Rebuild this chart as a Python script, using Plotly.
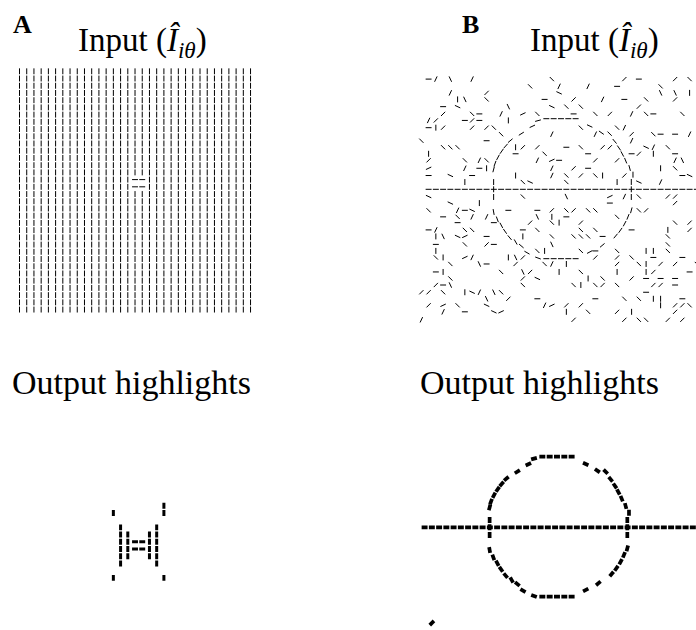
import math
import plotly.graph_objects as go

# ---------------- data ----------------
# orientation codes (degrees, counter-clockwise from horizontal)
ANGLE_CODES = {'-': 0, 'a': 25, '/': 45, 'b': 65, '|': 90, 'c': 115, 'x': 135, 'd': 155}

# Panel A: vertical bars on a 33 x 34 grid, 2x2 patch of horizontal target bars
A_N_COLS = 33
A_N_ROWS = 34
A_TARGET = [(16, 15), (17, 15), (16, 16), (17, 16)]
A_OUT = [
    (13, 11, '|'), (13, 20, '|'), (20, 10, '|'), (20, 11, '|'), (20, 20, '|'),
    (14, 13, '|'), (14, 14, '|'), (14, 15, '|'), (14, 16, '|'), (14, 17, '|'), (14, 18, '|'),
    (15, 14, '|'), (15, 15, '|'), (15, 16, '|'), (15, 17, '|'),
    (16, 15, '-'), (17, 15, '-'), (16, 16, '-'), (17, 16, '-'),
    (18, 14, '|'), (18, 15, '|'), (18, 16, '|'), (18, 17, '|'),
    (19, 13, '|'), (19, 14, '|'), (19, 15, '|'), (19, 16, '|'), (19, 17, '|'), (19, 18, '|'),
]

# Panel B: background bars, per row: "col+code" tokens
B_ROW_POS = [-0.2, 0.8, 1.7, 2.6, 3.6, 4.6, 5.5, 6.5, 7.4, 8.3, 9.2, 10.1, 11.0, 12.1, 13.1,
             14.0, 16.0, 16.9, 17.9, 18.8, 19.6, 20.6, 21.5, 22.6, 23.5, 24.4, 25.3, 26.4,
             27.3, 28.2, 29.2, 30.1, 31.0, 31.9, 33.0]
B_ROW_BARS = [
    "0- 1b 3c 6b 17x 27/ 29- 34/ 36x",
    "14x 18b 22b 26- 32x",
    "3b 8/ 18d 32c 34c 36|",
    "4| 5c 8x 16- 20/ 24b 27- 30x 34/",
    "2- 4d 11c 17d 19x 21x 29/",
    "2/ 6x 7- 10b 13a 15x 20- 23x 25/ 28b 30x 31- 35x",
    "0b 1/ 5- 6/ 7- 11|",
    "0- 1| 2/ 6/ 8/ 9x 21x 26x 27b",
    "10x 17b 23b 28/ 31x 32- 34- 36b",
    "-1x 8- 28b",
    "2x 3x 4x 12| 13/ 15/ 19- 21x 24/ 25/ 30d 31b 33x",
    "0| 12- 16x 22- 28- 29/ 31| 34-",
    "0/ 5x 7b 8x 15b 17a 18- 23/ 26/ 34b 35c",
    "0a 5b 7- 8| 17b 20/ 22- 32| 34x",
    "0- 3d 6- 12| 17b 19x 21/ 23x 24| 27/ 35- 36d",
    "5| 13x 14d 19x 26| 29d 32b",
    "0d 13x 19c 25a 27b 29x 33/ 34/",
    "3d 7| 25- 34/",
    "0x 4b 5- 6d 11- 15- 17/ 19x 20/ 22x 23x 29x 30/",
    "2- 4x 6b 8b 15c 17| 19- 26x",
    "4- 9- 14/ 17x 18| 21/ 34x 36/",
    "0- 1b 5x 6x 13- 15x 21x 23x 28- 33| 36/",
    "1| 2c 4d 5a 8- 13| 17x 20x 21x 22x 24- 33x",
    "1- 5x 8/ 9- 17c 33x",
    "1| 15x 16| 21x 23- 26x 30| 31| 33x",
    "1x 2| 5a 6b 11| 12c 13/ 23/ 26/ 28x 31- 35-",
    "3x 7c 8- 12/ 16x 17b 19| 26/ 29x 30| 32/ 34/ 37x",
    "1- 2| 10x 13c 14/ 18| 21x 26| 30| 31/ 36-",
    "3x 13/ 15d 22| 24x 28/ 30- 32- 34-",
    "1/ 2- 3c 13x 20x 21| 23x 24/ 26x 31/ 32/ 34-",
    "-1/ 0/ 2x 5| 6d 7b 9c 10x 30-",
    "8c 11/ 15- 23- 27x 29x 31| 32| 35-",
    "0/ 2a 4x 8d 16b 17a 19/ 21/ 32| 34/ 35/ 36x",
    "2b 5- 9d 10a 19| 22x 26/ 28| 34/",
    "-1b 20/ 27/ 29x 30x 33/ 35/",
]
# Panel B: the horizontal line (row 15) and the circle (col, row, angle deg)
B_LINE_ROW = 15
B_LINE_COLS = list(range(0, 38))
B_CIRCLE = [
    (8.97, 14.0, 90), (8.97, 15.0, 90), (8.97, 16.06, 90), (8.97, 12.25, 75), (9.16, 11.46, 70),
    (9.57, 10.59, 62), (10.08, 9.76, 55), (10.63, 9.03, 48), (11.27, 8.29, 40),
    (12.79, 7.33, 32), (14.31, 6.31, 25), (15.09, 5.53, 15),
    (16.24, 5.26, 0), (17.25, 5.26, 0), (18.26, 5.26, 0), (19.27, 5.26, 0), (20.28, 5.26, 0),
    (22.22, 6.27, 155), (23.83, 7.19, 145), (24.97, 7.33, 135), (25.66, 8.38, 130),
    (26.26, 9.30, 125), (26.72, 10.13, 118), (27.18, 11.05, 112), (27.73, 12.06, 105),
    (28.19, 12.98, 90), (27.96, 13.99, 90), (27.96, 15.0, 90), (27.96, 16.06, 90),
    (27.96, 17.9, 75), (27.5, 18.8, 68), (27.04, 19.74, 62), (26.45, 20.66, 55),
    (25.8, 21.44, 50), (23.96, 22.73, 40), (22.22, 23.65, 28),
    (20.28, 24.57, 0), (19.27, 24.57, 0), (18.26, 24.57, 0), (17.25, 24.57, 0), (16.24, 24.57, 0),
    (15.09, 24.48, 160), (13.57, 23.74, 150), (12.79, 22.82, 140), (12.01, 22.27, 120),
    (11.18, 21.67, 130), (10.54, 20.80, 125), (10.03, 19.97, 118), (9.48, 19.14, 110),
    (8.97, 18.13, 100),
]
B_OUT_EXTRA = [(1, 28.2, 45)]

# ---------------- helpers ----------------
W, H = 696, 630
HALF_LEN = 0.41


def seg_xy(items, half=HALF_LEN):
    xs, ys = [], []
    for c, r, deg in items:
        t = math.radians(deg)
        dx, dy = half * math.cos(t), half * math.sin(t)
        xs += [c - dx, c + dx, None]
        ys += [r + dy, r - dy, None]
    return xs, ys


def axis_pair(px0, py0, s, c0, c1, r0, r1):
    xd = [max(0.0, (px0 + c0 * s) / W), min(1.0, (px0 + c1 * s) / W)]
    ytop, ybot = py0 + r0 * s, py0 + r1 * s
    yd = [max(0.0, 1 - ybot / H), min(1.0, 1 - ytop / H)]
    common = dict(visible=False, showgrid=False, zeroline=False, fixedrange=True)
    return (dict(domain=xd, range=[c0, c1], **common),
            dict(domain=yd, range=[r1, r0], **common))


# ---------------- build items ----------------
a_in = []
for r in range(A_N_ROWS):
    for c in range(A_N_COLS):
        a_in.append((c, r, 0 if (c, r) in A_TARGET else 90))
a_out = [(c, r, ANGLE_CODES[k]) for c, r, k in A_OUT]

b_in = []
for rpos, row in zip(B_ROW_POS, B_ROW_BARS):
    for tok in row.split():
        b_in.append((int(tok[:-1]), rpos, ANGLE_CODES[tok[-1]]))
b_line = [(c, B_LINE_ROW, 0) for c in B_LINE_COLS]
b_in_all = b_in + b_line + B_CIRCLE
b_out_all = b_line + B_CIRCLE + B_OUT_EXTRA

fig = go.Figure()
panels = [
    (a_in, 1.0, '', (19.5, 71.3, 7.22, -1.0, 33.0, -0.8, 33.8)),
    (a_out, 3.0, '2', (19.5, 433.5, 7.22, -1.0, 33.0, 5.0, 25.0)),
    (b_in_all, 1.0, '3', (428.6, 80.55, 7.25, -1.6, (W - 428.6) / 7.25, -1.0, 34.0)),
    (b_out_all, 3.7, '4', (424.6, 418.55, 7.25, -1.6, (W - 424.6) / 7.25, 4.0, 29.0)),
]
layout_axes = {}
for items, width, sfx, geo in panels:
    xs, ys = seg_xy(items)
    fig.add_trace(go.Scatter(x=xs, y=ys, mode='lines', xaxis='x' + sfx, yaxis='y' + sfx,
                             line=dict(color='black', width=width),
                             hoverinfo='skip', showlegend=False))
    xa, ya = axis_pair(*geo)
    layout_axes['xaxis' + sfx] = xa
    layout_axes['yaxis' + sfx] = ya
    if sfx:
        layout_axes['xaxis' + sfx]['anchor'] = 'y' + sfx
        layout_axes['yaxis' + sfx]['anchor'] = 'x' + sfx

SERIF = "Liberation Serif"
title_in = "Input (<i>Î</i><sub><i>iθ</i></sub>)"
texts = [
    ("<b>A</b>", 11, 8, 26),
    (title_in, 76, 20, 33),
    ("<b>B</b>", 460, 8, 26),
    (title_in, 528, 20, 33),
    ("Output highlights", 10, 362, 34),
    ("Output highlights", 418, 362, 34),
]
annotations = [
    dict(text=t, x=x / W, y=1 - y / H, xref='paper', yref='paper', xanchor='left',
         yanchor='top', showarrow=False, font=dict(family=SERIF, size=sz, color='black'))
    for t, x, y, sz in texts
]

fig.update_layout(width=W, height=H, margin=dict(l=0, r=0, t=0, b=0),
                  paper_bgcolor='white', plot_bgcolor='white', showlegend=False,
                  annotations=annotations, **layout_axes)
fig.write_html("out.html")
